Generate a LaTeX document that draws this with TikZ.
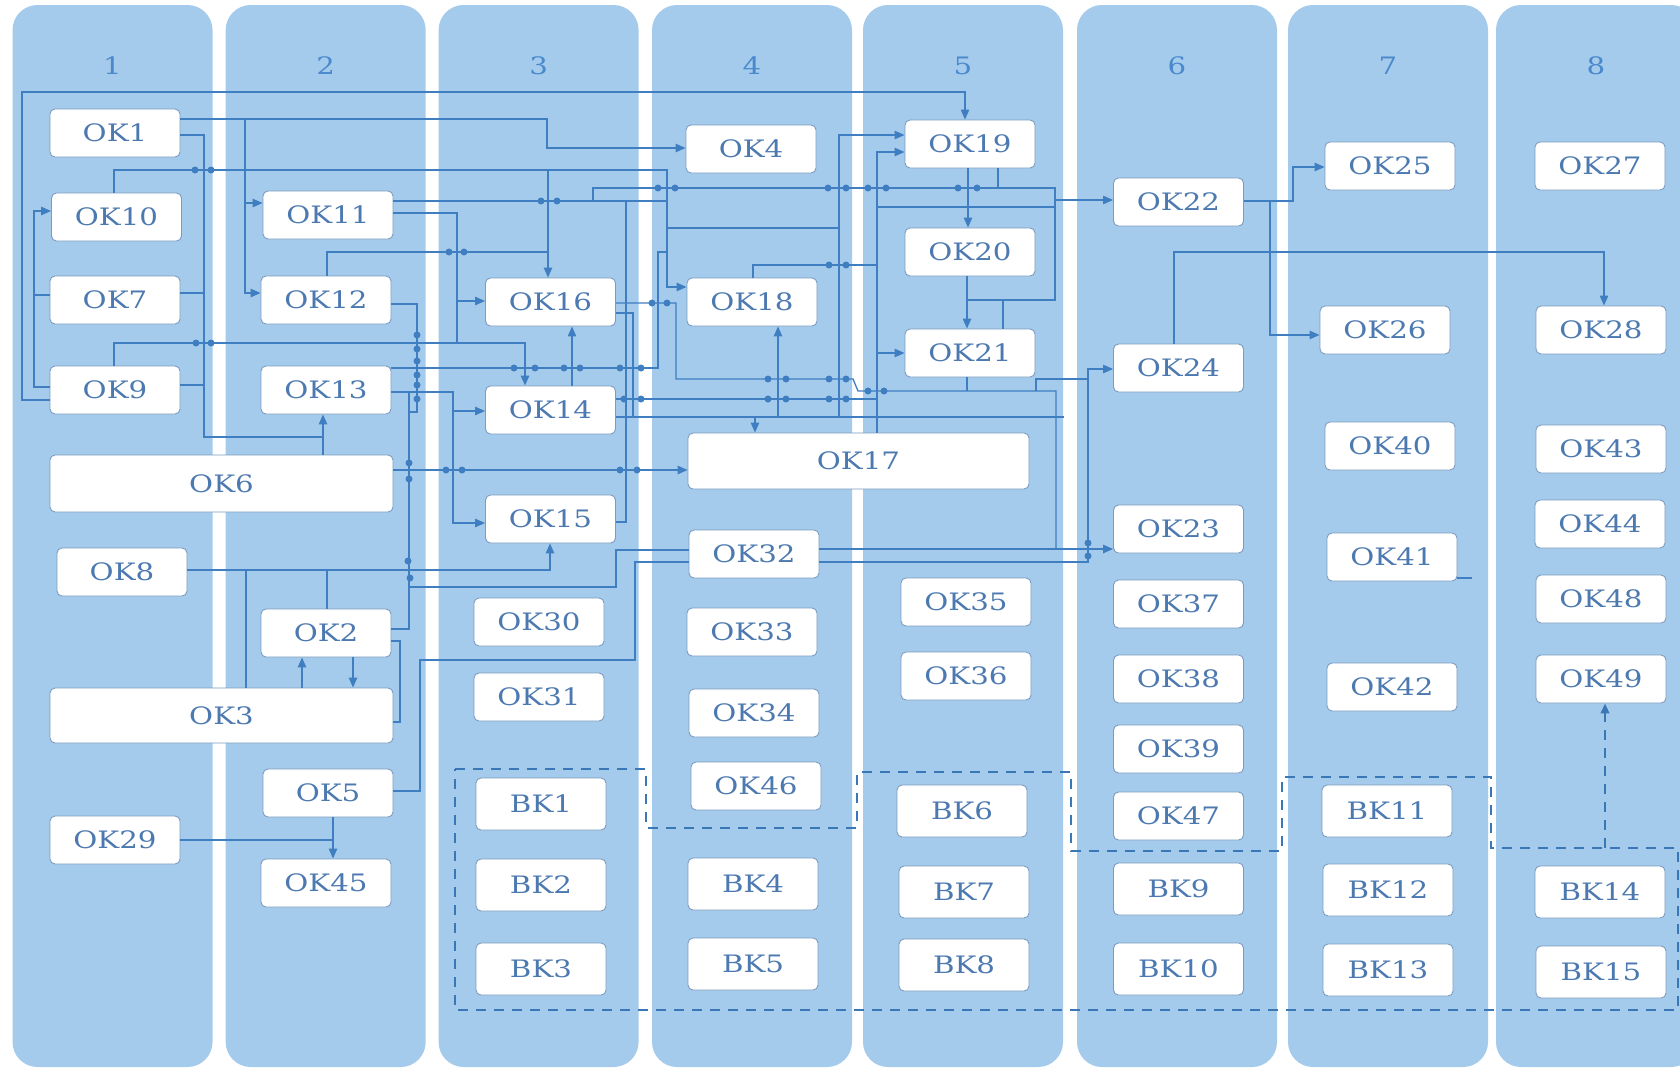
\documentclass[tikz,border=0pt]{standalone}
\usepackage{fontspec}
\usepackage{graphicx}
\setmainfont{DejaVu Serif}
\usetikzlibrary{arrows.meta}
\definecolor{colfill}{HTML}{A5CBEC}
\definecolor{lncol}{HTML}{3E7EC1}
\definecolor{bord}{HTML}{7C9BC0}
\definecolor{txt}{HTML}{4C79B0}
\definecolor{numcol}{HTML}{4A89CC}
\definecolor{dashcol}{HTML}{3A77B6}
\newcommand\wtxt[1]{\scalebox{1.22}[1]{#1}}
\begin{document}
\begin{tikzpicture}[x=1pt,y=-1pt,
  box/.style={draw=bord, line width=0.9pt, fill=white, rounded corners=5pt, minimum width=130pt, minimum height=48pt, inner sep=0pt, text=txt, font=\fontsize{24}{24}\selectfont},
  bkbox/.style={box, minimum height=52pt},
  ln/.style={draw=lncol, line width=1.3pt},
  arr/.style={-{Triangle[length=10pt,width=8.5pt]}},
  dsh/.style={draw=dashcol, line width=2.4pt, dash pattern=on 10pt off 8pt},
  colbox/.style={fill=colfill, rounded corners=25pt},
  num/.style={text=numcol, font=\fontsize{24}{24}\selectfont},
]
\useasboundingbox (0,0) rectangle (1680,1069);
\fill[white] (0,0) rectangle (1680,1069);
\begin{scope}
\clip (0,0) rectangle (1680,1069);
\foreach \cx [count=\i] in {12.5,225.7,438.6,652,863,1077,1288,1496}{
  \fill[colbox] (\cx,5) rectangle ++(200,1062);
  \node[num] (c\i) at (\cx+100,66) {\wtxt{\i}};
}
\end{scope}

% boxes
\foreach \n/\x/\y in {OK1/115/133, OK10/116.5/217, OK7/115/300, OK9/115/390, OK8/122/572, OK29/115/840,
OK11/328/215, OK12/326/300, OK13/326/390, OK2/326/633, OK5/328/793, OK45/326/883,
OK16/550.5/302, OK14/550.5/410, OK15/550.5/519, OK30/539/622, OK31/539/697,
OK4/751/149, OK18/752/302, OK32/754/554, OK33/752/632, OK34/754/713, OK46/756/786,
OK19/970/144, OK20/970/252, OK21/970/353, OK35/966/602, OK36/966/676,
OK22/1178.5/202, OK24/1178.5/368, OK23/1178.5/529, OK37/1178.5/604, OK38/1178.5/679, OK39/1178.5/749, OK47/1178.5/816,
OK25/1390/166, OK26/1385/330, OK40/1390/446, OK41/1392/557, OK42/1392/687,
OK27/1600/166, OK28/1601/330, OK43/1601/449, OK44/1600/524, OK48/1601/599, OK49/1601/679}{
  \node[box] (\n) at (\x,\y) {\wtxt{\n}};
}
\foreach \n/\x/\y in {BK1/541/804, BK2/541/885, BK3/541/969, BK4/753/884, BK5/753/964, BK6/962/811, BK7/964/892, BK8/964/965, BK9/1178.5/889, BK10/1178.5/969, BK11/1387/811, BK12/1388/890, BK13/1388/970, BK14/1600/892, BK15/1601/972}{
  \node[bkbox] (\n) at (\x,\y) {\wtxt{\n}};
}
\node[box, minimum width=343pt, minimum height=57pt] (OK6) at (221.5,483.5) {\wtxt{OK6}};
\node[box, minimum width=343pt, minimum height=55pt] (OK3) at (221.5,715.5) {\wtxt{OK3}};
\node[box, minimum width=341pt, minimum height=56pt] (OK17) at (858.5,461) {\wtxt{OK17}};

% connectors
\draw[ln,arr] (OK9.west |- 0,400) -- (22,400) -- (22,92) -- (965,92) -- (OK19.north -| 965,0);
\draw[ln,arr] (OK9.west |- 0,387) -- (34,387) -- (34,211) -- (OK10.west |- 0,211);
\draw[ln] (OK7.west |- 0,295) -- (34,295);
\draw[ln,arr] (OK1.east |- 0,119) -- (547,119) -- (547,148) -- (OK4.west |- 0,148);
\draw[ln,arr] (245,119) -- (245,293) -- (OK12.west |- 0,293);
\draw[ln,arr] (245,203) -- (OK11.west |- 0,203);
\draw[ln] (OK1.east |- 0,135) -- (204,135) -- (204,437) -- (323,437);
\draw[ln] (OK7.east |- 0,293) -- (204,293);
\draw[ln] (OK9.east |- 0,385) -- (204,385);
\draw[ln,arr] (OK6.north -| 323,0) -- (OK13.south -| 323,0);
\draw[ln,arr] (OK10.north -| 114,0) -- (114,170) -- (667,170) -- (667,287) -- (OK18.west |- 0,287);
\draw[ln,arr] (548,170) -- (OK16.north -| 548,0);
\draw[ln] (OK11.east |- 0,201) -- (667,201);
\draw[ln] (593,201) -- (593,188) -- (1055,188) -- (1055,300) -- (967,300);
\draw[ln,arr] (OK11.east |- 0,213) -- (457,213) -- (457,301) -- (OK16.west |- 0,301);
\draw[ln] (457,301) -- (457,343);
\draw[ln] (OK12.north -| 327,0) -- (327,252) -- (548,252);
\draw[ln] (OK12.east |- 0,304) -- (417,304) -- (417,412) -- (409,412);
\draw[ln,arr] (OK13.east |- 0,392) -- (453,392) -- (453,523) -- (OK15.west |- 0,523);
\draw[ln,arr] (453,411) -- (OK14.west |- 0,411);
\draw[ln] (409,392) -- (409,629) -- (OK2.east |- 0,629);
\draw[ln,arr] (OK9.north -| 114,0) -- (114,343) -- (525,343) -- (OK14.north -| 525,0);
\draw[ln] (OK13.east |- 0,368) -- (658,368) -- (658,252) -- (667,252);
\draw[ln,arr] (OK6.east |- 0,470) -- (OK17.west |- 0,470);
\draw[ln,arr] (OK8.east |- 0,570) -- (550,570) -- (OK15.south -| 550,0);
\draw[ln] (OK3.north -| 246,0) -- (246,570);
\draw[ln] (OK2.north -| 327,0) -- (327,570);
\draw[ln,arr] (OK3.north -| 302,0) -- (OK2.south -| 302,0);
\draw[ln,arr] (OK2.south -| 353,0) -- (OK3.north -| 353,0);
\draw[ln] (409,587) -- (616,587) -- (616,550) -- (OK32.west |- 0,550);
\draw[ln] (OK2.east |- 0,641) -- (400,641) -- (400,722) -- (OK3.east |- 0,722);
\draw[ln] (OK5.east |- 0,791) -- (420,791) -- (420,660) -- (635,660) -- (635,562) -- (OK32.west |- 0,562);
\draw[ln,arr] (OK32.east |- 0,549) -- (OK23.west |- 0,549);
\draw[ln,arr] (OK32.east |- 0,562) -- (1088,562) -- (1088,369) -- (OK24.west |- 0,369);
\draw[ln] (OK29.east |- 0,840) -- (333,840);
\draw[ln,arr] (OK5.south -| 333,0) -- (OK45.north -| 333,0);
\draw[ln,arr] (OK14.north -| 572,0) -- (OK16.south -| 572,0);
\draw[ln] (OK16.east |- 0,303) -- (676,303) -- (676,379) -- (853,379) -- (858,391) -- (1056,391) -- (1056,549);
\draw[ln] (OK21.south -| 967,0) -- (967,391);
\draw[ln] (1036,391) -- (1036,379) -- (1088,379);
\draw[ln] (OK16.east |- 0,313) -- (633,313) -- (633,417);
\draw[ln] (626,201) -- (626,522) -- (OK15.east |- 0,522);
\draw[ln] (OK14.east |- 0,399) -- (877,399);
\draw[ln] (OK14.east |- 0,417) -- (1064,417);
\draw[ln,arr] (755,417) -- (OK17.north -| 755,0);
\draw[ln,arr] (778,417) -- (OK18.south -| 778,0);
\draw[ln,arr] (839,417) -- (839,135) -- (OK19.west |- 0,135);
\draw[ln,arr] (OK17.north -| 877,0) -- (877,152) -- (OK19.west |- 0,152);
\draw[ln,arr] (877,353) -- (OK21.west |- 0,353);
\draw[ln] (667,228) -- (839,228);
\draw[ln] (OK18.north -| 753,0) -- (753,265) -- (877,265);
\draw[ln,arr] (OK19.south -| 968,0) -- (OK20.north -| 968,0);
\draw[ln] (OK19.south -| 998,0) -- (998,188);
\draw[ln] (877,207) -- (1055,207);
\draw[ln,arr] (1055,200) -- (OK22.west |- 0,200);
\draw[ln,arr] (OK20.south -| 967,0) -- (OK21.north -| 967,0);
\draw[ln] (1003,300) -- (OK21.north -| 1003,0);
\draw[ln,arr] (OK22.east |- 0,201) -- (1293,201) -- (1293,167) -- (OK25.west |- 0,167);
\draw[ln,arr] (1270,201) -- (1270,335) -- (OK26.west |- 0,335);
\draw[ln,arr] (OK24.north -| 1174,0) -- (1174,252) -- (1604,252) -- (OK28.north -| 1604,0);
\draw[ln] (OK41.east |- 0,578) -- (1472,578);

% crossing dots
\foreach \p in {(195,170),(211,170),(196,343),(211,343),
(417,335),(417,349),(417,361),(417,375),(417,385),(417,399),
(541,201),(557,201),(449,252),(464,252),
(658,188),(675,188),(828,188),(846,188),(868,188),(886,188),(958,188),(977,188),
(652,303),(667,303),(829,265),(846,265),
(514,368),(535,368),(564,368),(580,368),(620,368),(641,368),
(624,399),(641,399),(768,399),(786,399),(829,399),(846,399),
(768,379),(786,379),(829,379),(846,379),(868,391),(884,391),
(446,470),(462,470),(620,470),(637,470),
(409,463),(409,479),(408,561),(410,578),(1088,543),(1088,556)}{
  \fill[lncol] \p circle[radius=3.5pt];
}

% dashed outline
\draw[dsh] (455,769) -- (646,769) -- (646,828) -- (857,828) -- (857,772) -- (1071,772) -- (1071,851) -- (1282,851) -- (1282,777) -- (1491,777) -- (1491,848) -- (1678,848) -- (1678,1010) -- (455,1010) -- cycle;
\coordinate (dstart) at (1605,848);
\draw[dsh,arr] (dstart) -- (OK49.south -| dstart);
\end{tikzpicture}
\end{document}
